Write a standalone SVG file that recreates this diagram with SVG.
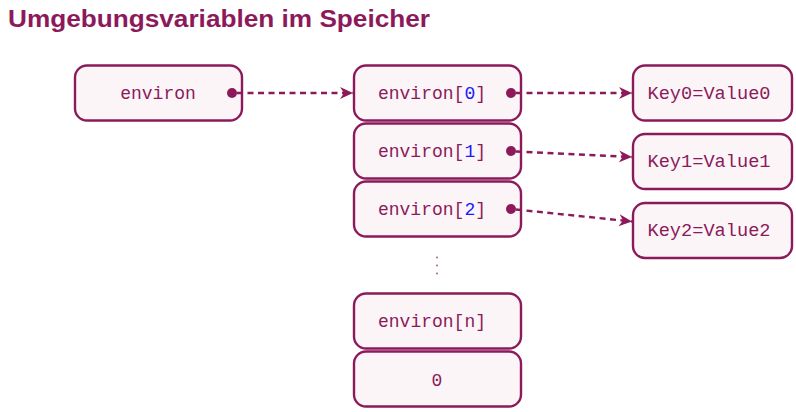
<svg xmlns="http://www.w3.org/2000/svg" width="796" height="412" viewBox="0 0 796 412">
<style>
.box{fill:#fbf5f8;stroke:#8c1a5b;stroke-width:2.4}
.t{font-family:"Liberation Mono","DejaVu Sans Mono",monospace;font-size:18px;fill:#8c1a5b;text-anchor:middle}
.b{fill:#1a1aff}
.c{fill:none;stroke:#8c1a5b;stroke-width:2.4;stroke-dasharray:6 4.5;marker-end:url(#ah)}
.d{fill:#8c1a5b}
.title{font-family:"Liberation Sans",Arial,sans-serif;font-weight:bold;font-size:23px;fill:#8c1a5b}
</style>
<defs>
<marker id="ah" markerWidth="14" markerHeight="12" refX="13" refY="6" orient="auto" markerUnits="userSpaceOnUse">
<path d="M0,0 L13,6 L0,12 L4,6 Z" fill="#8c1a5b"/>
</marker>
</defs>
<text class="title" x="8" y="27" textLength="422" lengthAdjust="spacingAndGlyphs">Umgebungsvariablen im Speicher</text>
<g id="environ"><rect class="box" x="75" y="65.5" width="167" height="55" rx="12"/><text class="t" x="158" y="99">environ</text></g>
<g id="environ0"><rect class="box" x="354" y="65.5" width="167" height="55" rx="12"/><text class="t" x="432" y="99">environ[<tspan class="b">0</tspan>]</text></g>
<g id="environ1"><rect class="box" x="354" y="123.5" width="167" height="55" rx="12"/><text class="t" x="432" y="157">environ[<tspan class="b">1</tspan>]</text></g>
<g id="environ2"><rect class="box" x="354" y="181.5" width="167" height="55" rx="12"/><text class="t" x="432" y="215">environ[<tspan class="b">2</tspan>]</text></g>
<g id="dots" opacity="0.7"><circle class="d" cx="437" cy="257.5" r="1"/><circle class="d" cx="437" cy="265.5" r="1"/><circle class="d" cx="437" cy="273.5" r="1"/></g>
<g id="environn"><rect class="box" x="354" y="293.5" width="167" height="55" rx="12"/><text class="t" x="432" y="327">environ[n]</text></g>
<g id="zero"><rect class="box" x="354" y="351.5" width="167" height="55" rx="12"/><text class="t" x="437" y="386">0</text></g>
<g id="key0"><rect class="box" x="633" y="65.5" width="159" height="55" rx="12"/><text class="t" x="709" y="99" textLength="123" lengthAdjust="spacingAndGlyphs">Key0=Value0</text></g>
<g id="key1"><rect class="box" x="633" y="134" width="159" height="55" rx="12"/><text class="t" x="709" y="167" textLength="123" lengthAdjust="spacingAndGlyphs">Key1=Value1</text></g>
<g id="key2"><rect class="box" x="633" y="203" width="159" height="55" rx="12"/><text class="t" x="709" y="236" textLength="123" lengthAdjust="spacingAndGlyphs">Key2=Value2</text></g>
<g id="connectors">
<circle class="d" cx="232" cy="93" r="5"/>
<circle class="d" cx="511" cy="93" r="5"/>
<circle class="d" cx="511" cy="151" r="5"/>
<circle class="d" cx="511" cy="209" r="5"/>
<path class="c" d="M237,93 L353,93"/>
<path class="c" d="M516,93 L632,93"/>
<path class="c" d="M516,151.5 L632,157"/>
<path class="c" d="M516,209.5 L632,221.5"/>
</g>
</svg>
